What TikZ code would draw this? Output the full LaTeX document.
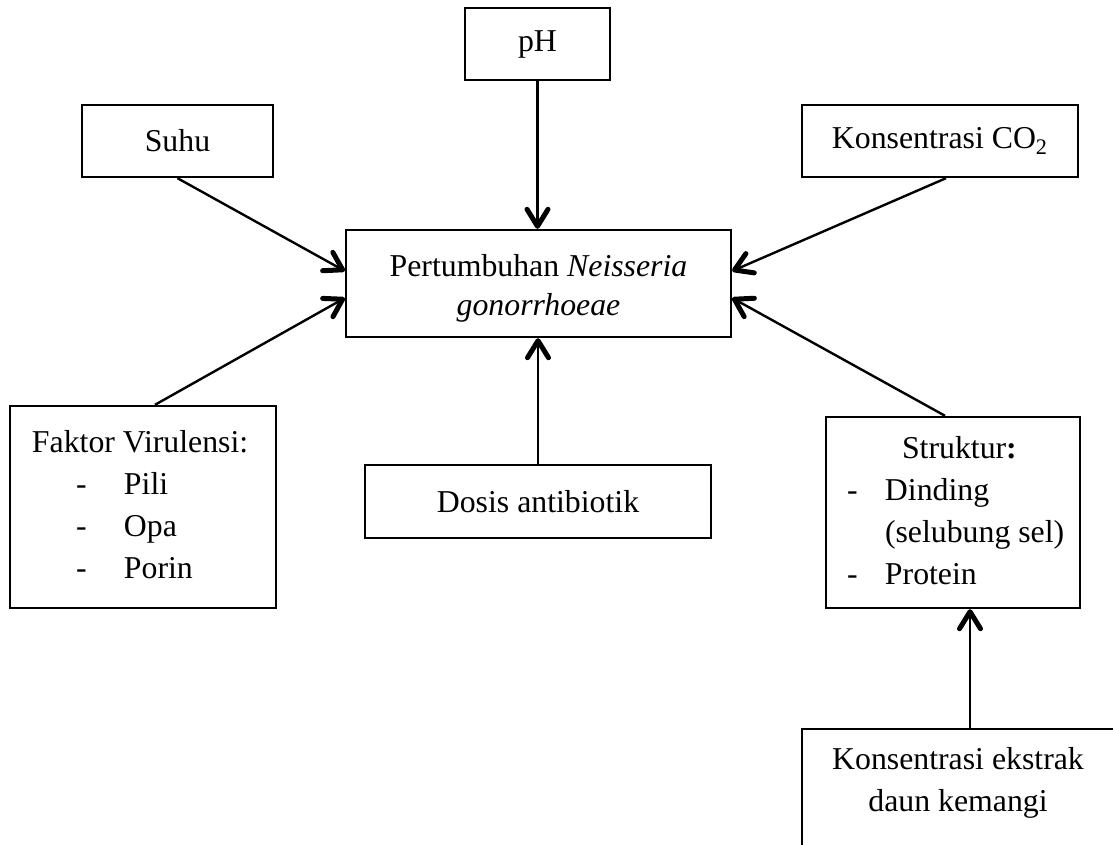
\documentclass[tikz,border=0pt]{standalone}
\usepackage{fontspec}
\setmainfont{Liberation Serif}
\usetikzlibrary{arrows.meta,calc}
\begin{document}
\begin{tikzpicture}[x=0.5pt,y=-0.5pt,
  box/.style={draw,line width=1.2pt,inner sep=0pt,align=center,
    font=\fontsize{15.9}{21}\selectfont},
  arr/.style={line width=1.2pt,-{Straight Barb[length=8.5pt,width=10.5pt,line width=2.5pt,round]}}]
\useasboundingbox (0,0) rectangle (1113,845);
\clip (0,0) rectangle (1113,845);
\node[box,minimum width=72.5pt,minimum height=36pt] (ph) at (537.5,44) {pH};
\node[box,minimum width=95.5pt,minimum height=36pt] (suhu) at (177.5,141) {Suhu};
\node[box,minimum width=138pt,minimum height=36pt] (co2) at (940,141) {Konsentrasi CO\textsubscript{2}};
\node[box,minimum width=192.5pt,minimum height=53.5pt,font=\fontsize{15.9}{19.5}\selectfont] (pn) at (538.5,283.5)
  {\rule{0pt}{16pt}Pertumbuhan \textit{Neisseria}\\\textit{gonorrhoeae}};
\node[box,minimum width=173pt,minimum height=36.5pt] (dosis) at (538,501.5) {Dosis antibiotik};
\node[box,minimum width=133pt,minimum height=101pt] (fv) at (143,507)
  {\makebox[133pt][l]{\hspace*{11pt}Faktor Virulensi:}\\
   \makebox[133pt][l]{\hspace*{33pt}\makebox[24pt][l]{-}Pili}\\
   \makebox[133pt][l]{\hspace*{33pt}\makebox[24pt][l]{-}Opa}\\
   \makebox[133pt][l]{\hspace*{33pt}\makebox[24pt][l]{-}Porin}\rule[-3pt]{0pt}{0pt}};
\node[box,minimum width=127pt,minimum height=95.5pt] (st) at (953,512.5)
  {\makebox[127pt][l]{\hspace*{38pt}Struktur\textbf{:}}\\
   \makebox[127pt][l]{\hspace*{10.5pt}\makebox[19pt][l]{-}Dinding}\\
   \makebox[127pt][l]{\hspace*{29.5pt}(selubung sel)}\\
   \makebox[127pt][l]{\hspace*{10.5pt}\makebox[19pt][l]{-}Protein}\rule[-2pt]{0pt}{0pt}};
\node[box,minimum width=156pt,minimum height=78pt] (ke) at (958,807)
  {Konsentrasi ekstrak\\daun kemangi\\\strut};
\draw[arr] (suhu.south) -- ($(pn.west)+(0,-12.5)$);
\draw[arr] ($(fv.north)+(12,0)$) -- ($(pn.west)+(0,14.5)$);
\draw[arr] (ph.south) -- (ph.south |- pn.north);
\draw[arr] ($(co2.south)+(6,0)$) -- ($(pn.east)+(0,-12.5)$);
\draw[arr] ($(st.north)+(-8,0)$) -- ($(pn.east)+(0,14.5)$);
\draw[arr] (dosis.north) -- (dosis.north |- pn.south);
\draw[arr] ($(ke.north)+(12,0)$) -- ($(st.south)+(17,0)$);
\end{tikzpicture}
\end{document}
